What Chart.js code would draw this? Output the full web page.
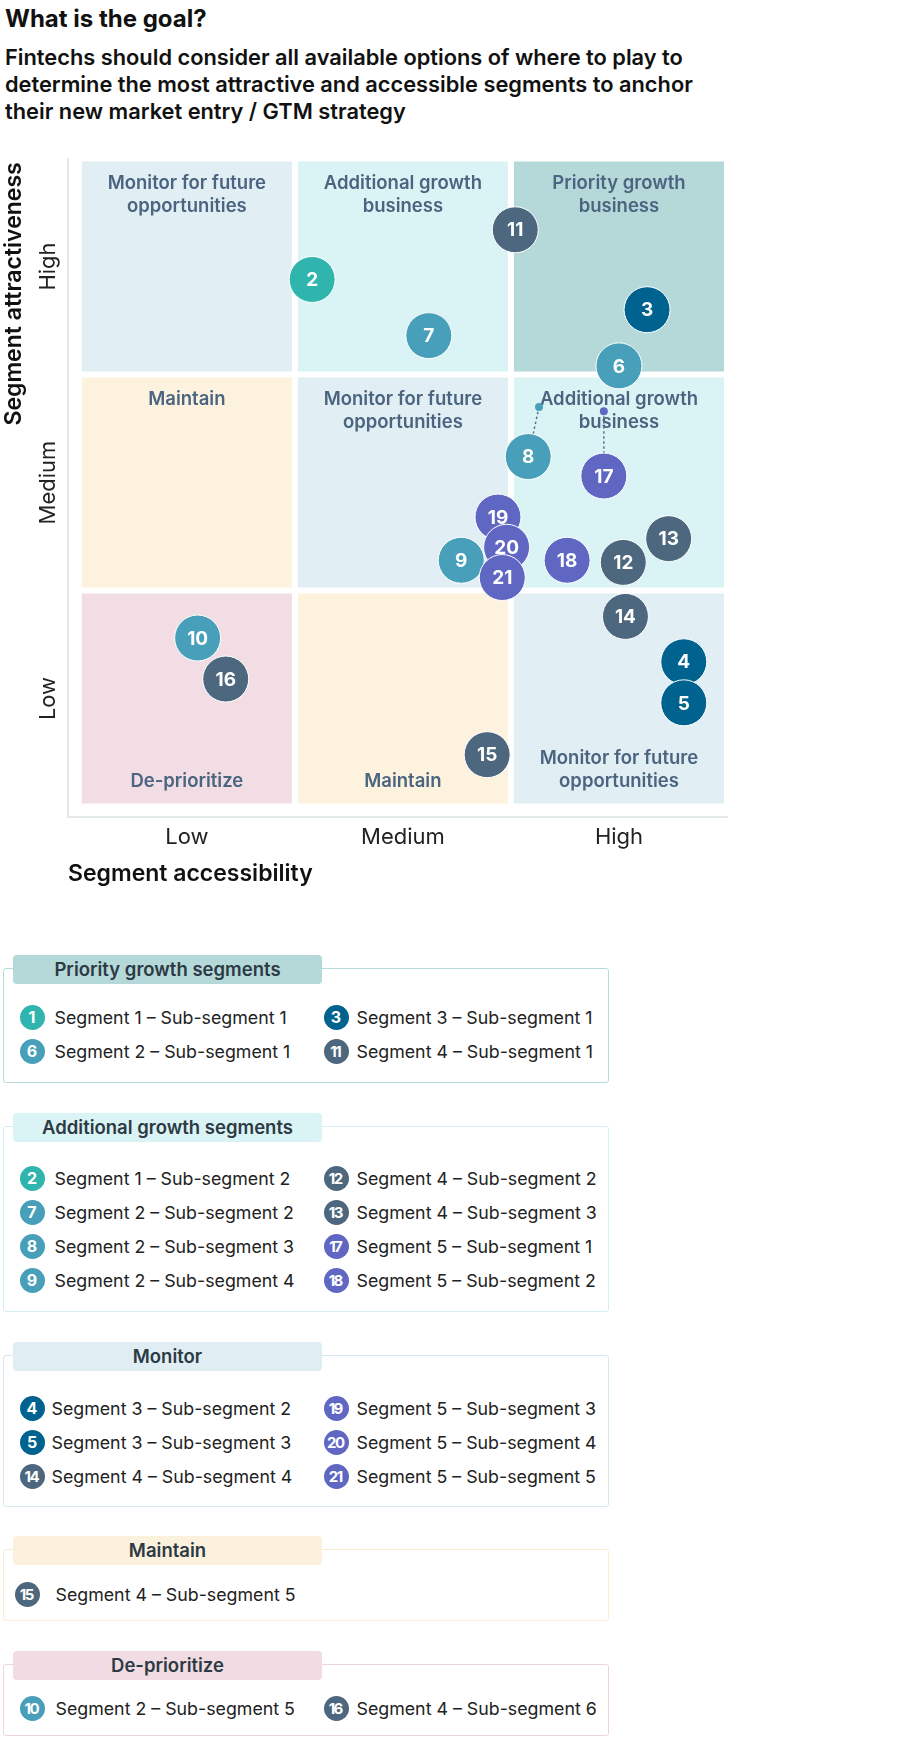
<!DOCTYPE html>
<html>
<head>
<meta charset="utf-8">
<title>What is the goal?</title>
<script src="https://cdn.jsdelivr.net/npm/chart.js@4.4.0/dist/chart.umd.min.js"></script>
<style>
  body { margin: 0; background: #fff; font-family: Inter, "Noto Sans", sans-serif; color: #111; }
  #page { position: relative; width: 900px; height: 1751px; overflow: hidden; }
  h1 { position: absolute; left: 5px; top: 5px; margin: 0; font-size: 24px; font-weight: 700; line-height: 28px; }
  .sub { position: absolute; left: 5px; top: 44px; margin: 0; font-size: 21.8px; font-weight: 600; line-height: 27px; white-space: nowrap; }
  #chartWrap { position: absolute; left: 0; top: 130px; width: 760px; height: 780px; }
  .box { position: absolute; left: 3px; width: 606px; border: 1.5px solid; border-radius: 3px; box-sizing: border-box; }
  .tab { position: absolute; left: 13px; width: 309px; height: 29px; border-radius: 4px; font-weight: 600; font-size: 18.5px; line-height: 29px; text-align: center; color: #2c3a44; }
  .item { position: absolute; height: 26px; display: flex; align-items: center; font-size: 17.8px; color: #222; white-space: nowrap; }
  .badge { width: 25px; height: 25px; flex: none; border-radius: 50%; color: #fff; font-weight: 700; font-size: 16px; display: flex; align-items: center; justify-content: center; }
  .badge.two { letter-spacing: -1.5px; font-size: 15px; text-indent: -1.5px; }
</style>
</head>
<body>
<div id="page">
  <h1>What is the goal?</h1>
  <p class="sub">Fintechs should consider all available options of where to play to<br>determine the most attractive and accessible segments to anchor<br>their new market entry / GTM strategy</p>
  <div id="chartWrap"><canvas id="matrix" width="760" height="780" style="width:760px;height:780px"></canvas></div>
  <div id="legend"></div>
</div>
<script>
// axis labels
const xTickLabels = ["Low", "Medium", "High"];
const yTickLabels = ["Low", "Medium", "High"];

// matrix cells, top row first
const cellNames = [
  ["Monitor for future\nopportunities", "Additional growth\nbusiness", "Priority growth\nbusiness"],
  ["Maintain", "Monitor for future\nopportunities", "Additional growth\nbusiness"],
  ["De-prioritize", "Maintain", "Monitor for future\nopportunities"]
];
const cellColors = [
  ["#e1eef4", "#daf4f5", "#b5d8d9"],
  ["#fcf2de", "#e1eef4", "#daf4f5"],
  ["#f1dde3", "#fcf2de", "#e1eef4"]
];

// segments 1..21
const segmentOf = [1, 1, 3, 3, 3, 2, 2, 2, 2, 2, 4, 4, 4, 4, 4, 4, 5, 5, 5, 5, 5];
const subSegmentOf = [1, 2, 1, 2, 3, 1, 2, 3, 4, 5, 1, 2, 3, 4, 5, 6, 1, 2, 3, 4, 5];

// plotted bubbles (0-3 scale: low / medium / high)
const pointIds = [2, 3, 4, 5, 6, 7, 8, 9, 10, 11, 12, 13, 14, 15, 16, 17, 18, 19, 20, 21];
const accessibility = [1.08, 2.63, 2.80, 2.80, 2.50, 1.62, 2.08, 1.77, 0.55, 2.02, 2.52, 2.73, 2.53, 1.89, 0.68, 2.43, 2.26, 1.94, 1.98, 1.96];
const attractiveness = [2.44, 2.30, 0.67, 0.48, 2.04, 2.18, 1.62, 1.14, 0.78, 2.67, 1.13, 1.24, 0.88, 0.24, 0.59, 1.53, 1.14, 1.34, 1.20, 1.06];

// true positions of bubbles that were moved for labelling
const pinIds = [8, 17];
const pinX = [2.13, 2.43];
const pinY = [1.85, 1.83];

// legend
const legendGroups = ["Priority growth segments", "Additional growth segments", "Monitor", "Maintain", "De-prioritize"];
const legendLeft = [[1, 6], [2, 7, 8, 9], [4, 5, 14], [15], [10]];
const legendRight = [[3, 11], [12, 13, 17, 18], [19, 20, 21], [], [16]];

const segColors = { 1: "#2fb5ad", 2: "#479fba", 3: "#00628f", 4: "#4c677e", 5: "#5f67c3" };
const colorOf = id => segColors[segmentOf[id - 1]];
const nameOf = id => "Segment " + segmentOf[id - 1] + " \u2013 Sub-segment " + subSegmentOf[id - 1];

Chart.defaults.font.family = "Inter";

// centre the rotated y labels at x = 48
const meas = document.createElement("canvas").getContext("2d");
meas.font = "22px Inter";
const widest = Math.max(...yTickLabels.map(t => meas.measureText(t).width));
const yTickPad = 68 - 48 - widest / 2;

const matrixPlugin = {
  id: "matrix",
  beforeDatasetsDraw(chart) {
    const { ctx, scales: { x, y } } = chart;
    ctx.save();
    for (let r = 0; r < 3; r++) {
      for (let c = 0; c < 3; c++) {
        const left = x.getPixelForValue(c) + 3;
        const right = x.getPixelForValue(c + 1) - 3;
        const top = y.getPixelForValue(r + 1) + 3;
        const bottom = y.getPixelForValue(r) - 3;
        ctx.fillStyle = cellColors[2 - r][c];
        ctx.fillRect(left, top, right - left, bottom - top);
        const lines = cellNames[2 - r][c].split("\n");
        ctx.fillStyle = "#4b6580";
        ctx.font = "600 18.5px Inter";
        ctx.textAlign = "center";
        ctx.textBaseline = "middle";
        const cx = (left + right) / 2;
        lines.forEach((ln, i) => {
          const cy = r === 0 ? bottom - 22 - (lines.length - 1 - i) * 23 : top + 22 + i * 23;
          ctx.fillText(ln, cx, cy);
        });
      }
    }
    ctx.restore();
  },
  afterDatasetsDraw(chart) {
    const { ctx } = chart;
    const meta = chart.getDatasetMeta(0);
    ctx.save();
    ctx.fillStyle = "#fff";
    ctx.font = "700 19px Inter";
    ctx.textAlign = "center";
    ctx.textBaseline = "middle";
    meta.data.forEach((pt, i) => ctx.fillText(String(pointIds[i]), pt.x, pt.y + 1));
    ctx.restore();
  }
};

const connectors = pinIds.map((id, k) => {
  const j = pointIds.indexOf(id);
  return {
    data: [{ x: pinX[k], y: pinY[k] }, { x: accessibility[j], y: attractiveness[j] }],
    showLine: true,
    pointRadius: 0,
    borderColor: "#5b7488",
    borderWidth: 1.5,
    borderDash: [2.5, 2.5]
  };
});

new Chart(document.getElementById("matrix"), {
  type: "scatter",
  data: {
    datasets: [
      {
        data: pointIds.map((id, i) => ({ x: accessibility[i], y: attractiveness[i] })),
        backgroundColor: pointIds.map(colorOf),
        borderColor: "#ffffff",
        borderWidth: 1,
        pointRadius: 23,
        pointHoverRadius: 23
      },
      {
        data: pinIds.map((id, k) => ({ x: pinX[k], y: pinY[k] })),
        backgroundColor: pinIds.map(colorOf),
        borderWidth: 0,
        pointRadius: 4
      },
      ...connectors
    ]
  },
  options: {
    responsive: false,
    animation: false,
    devicePixelRatio: 1,
    layout: { padding: { top: 28.5, right: 33, bottom: 0, left: 0 } },
    plugins: { legend: { display: false }, tooltip: { enabled: false } },
    scales: {
      x: {
        type: "linear",
        min: -0.05,
        max: 3,
        afterBuildTicks: s => { s.ticks = [0.5, 1.5, 2.5].map(v => ({ value: v })); },
        afterFit: s => { s.height = 92.7; },
        grid: { display: false, drawTicks: false },
        border: { display: true, color: "#e4e9ec", width: 2 },
        ticks: { callback: (v, i) => xTickLabels[i], padding: 6.5, color: "#222", font: { size: 22 }, maxRotation: 0, autoSkip: false },
        title: { display: true, text: "Segment accessibility", align: "start", color: "#111", font: { size: 23, weight: "600" }, padding: { top: 0, bottom: 22 } }
      },
      y: {
        type: "linear",
        min: -0.05,
        max: 3,
        afterBuildTicks: s => { s.ticks = [0.5, 1.5, 2.5].map(v => ({ value: v })); },
        afterFit: s => { s.width = 68; },
        grid: { display: false, drawTicks: false },
        border: { display: true, color: "#e4e9ec", width: 2 },
        ticks: { callback: (v, i) => yTickLabels[i], minRotation: 90, maxRotation: 90, crossAlign: "center", padding: yTickPad, color: "#222", font: { size: 22 }, autoSkip: false },
        title: { display: true, text: "Segment attractiveness\u2009", align: "end", color: "#111", font: { size: 23, weight: "600" }, padding: { top: 0, bottom: 0 } }
      }
    }
  },
  plugins: [matrixPlugin]
});

// legend boxes
const groupLayout = [
  { top: 955, bottom: 1083, row: 1017, tab: "#b5d8d9", line: "#b7dbdb", gapL: 10 },
  { top: 1113, bottom: 1312, row: 1178, tab: "#daf4f5", line: "#d3eff1", gapL: 10 },
  { top: 1342, bottom: 1507, row: 1408, tab: "#e0eef4", line: "#d8e8f0", gapL: 7 },
  { top: 1536, bottom: 1621, row: 1594, tab: "#fcf1dc", line: "#fbecd0", gapL: 16, badgeL: 27 },
  { top: 1651, bottom: 1736, row: 1708, tab: "#f1dce3", line: "#efd3dc", gapL: 11 }
];
const legend = document.getElementById("legend");
function addItem(id, badgeX, rowY, gap) {
  const it = document.createElement("div");
  it.className = "item";
  it.style.left = (badgeX - 12.5) + "px";
  it.style.top = (rowY - 13) + "px";
  const b = document.createElement("span");
  b.className = id > 9 ? "badge two" : "badge";
  b.style.background = colorOf(id);
  b.style.marginRight = gap + "px";
  b.textContent = id;
  const t = document.createElement("span");
  t.textContent = nameOf(id);
  it.append(b, t);
  legend.append(it);
}
legendGroups.forEach((name, g) => {
  const L = groupLayout[g];
  const box = document.createElement("div");
  box.className = "box";
  box.style.top = (L.top + 13) + "px";
  box.style.height = (L.bottom - L.top - 13) + "px";
  box.style.borderColor = L.line;
  legend.append(box);
  const tab = document.createElement("div");
  tab.className = "tab";
  tab.style.top = L.top + "px";
  tab.style.background = L.tab;
  tab.textContent = name;
  legend.append(tab);
  legendLeft[g].forEach((id, i) => addItem(id, L.badgeL || 32, L.row + i * 34, L.gapL));
  legendRight[g].forEach((id, i) => addItem(id, 336, L.row + i * 34, 8));
});
</script>
</body>
</html>
